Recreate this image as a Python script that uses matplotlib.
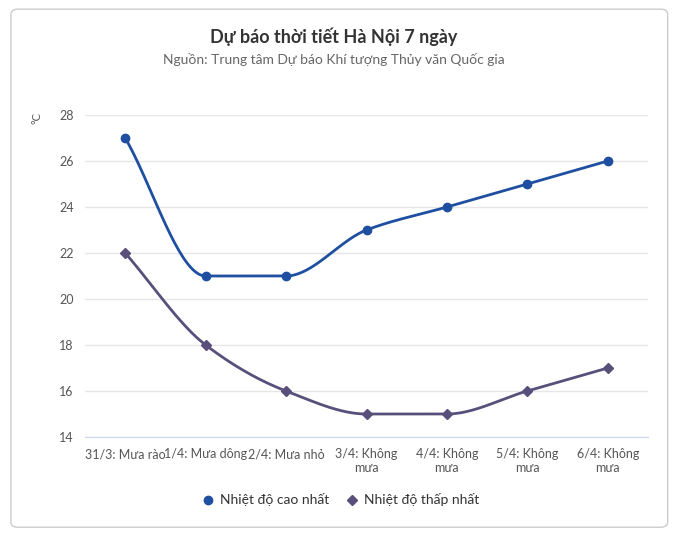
import numpy as np
import matplotlib
matplotlib.use("Agg")
import matplotlib.pyplot as plt
from matplotlib.patches import FancyBboxPatch

categories = ["31/3: Mưa rào", "1/4: Mưa dông", "2/4: Mưa nhỏ", "3/4: Không\nmưa",
              "4/4: Không\nmưa", "5/4: Không\nmưa", "6/4: Không\nmưa"]
high = [27, 21, 21, 23, 24, 25, 26]
low = [22, 18, 16, 15, 15, 16, 17]
yticks = [14, 16, 18, 20, 22, 24, 26, 28]

def pchip(x, y, n=40):
    x = np.asarray(x, float); y = np.asarray(y, float)
    h = np.diff(x); d = np.diff(y) / h
    m = np.zeros_like(y)
    for i in range(1, len(y) - 1):
        if d[i-1] * d[i] > 0:
            w1 = 2*h[i] + h[i-1]; w2 = h[i] + 2*h[i-1]
            m[i] = (w1 + w2) / (w1/d[i-1] + w2/d[i])
    m[0] = d[0]; m[-1] = d[-1]
    xs, ys = [], []
    for i in range(len(x) - 1):
        t = np.linspace(0, 1, n)
        h00 = 2*t**3 - 3*t**2 + 1; h10 = t**3 - 2*t**2 + t
        h01 = -2*t**3 + 3*t**2; h11 = t**3 - t**2
        xs.append(x[i] + t*h[i])
        ys.append(h00*y[i] + h10*h[i]*m[i] + h01*y[i+1] + h11*h[i]*m[i+1])
    return np.concatenate(xs), np.concatenate(ys)

plt.rcParams['font.family'] = ['Lato', 'DejaVu Sans']
fig = plt.figure(figsize=(6.82, 5.38), dpi=100)
box = FancyBboxPatch((0.016, 0.02), 0.963, 0.963, boxstyle="round,pad=0,rounding_size=0.01",
                     transform=fig.transFigure, fc="none", ec="#cccccc", lw=1, zorder=-10)
fig.patches.append(box)
ax = fig.add_axes([85/682, 1-437/538, (648-85)/682, (437-115)/538])
ax.patch.set_alpha(0)
x = np.arange(len(categories))
c1 = "#1e4fa0"; c2 = "#58507a"
for vals, c, mk, lab, ms in [(high, c1, "o", "Nhiệt độ cao nhất", 6), (low, c2, "D", "Nhiệt độ thấp nhất", 5)]:
    xs, ys = pchip(x, vals)
    ax.plot(xs, ys, color=c, lw=2)
    ax.plot(x, vals, mk, color=c, ms=ms, label=lab)
ax.set_xlim(-0.5, 6.5); ax.set_ylim(14, 28)
ax.set_yticks(yticks)
ax.set_xticks(x, categories)
ax.grid(axis='y', color="#e6e6e6", lw=1)
ax.set_axisbelow(True)
for s in ["top", "right", "left"]:
    ax.spines[s].set_visible(False)
ax.spines["bottom"].set_color("#ccd6eb")
ax.tick_params(axis='both', length=0, labelsize=9, colors="#555555", pad=8)
fig.text(37/682, 1-118/538, "°C", rotation=90, fontsize=8, color="#555555", ha="center", va="center")
fig.text(0.49, 1-37/538, "Dự báo thời tiết Hà Nội 7 ngày", fontsize=13, fontweight="bold", color="#333333", ha="center", va="center")
fig.text(0.49, 1-60/538, "Nguồn: Trung tâm Dự báo Khí tượng Thủy văn Quốc gia", fontsize=10, color="#666666", ha="center", va="center")
leg = fig.legend(loc="center", bbox_to_anchor=(0.5, 1-500/538), ncol=2, frameon=False, fontsize=10,
                 handlelength=0.8, columnspacing=1.2, handletextpad=0.5)
for t in leg.get_texts():
    t.set_color("#333333")
fig.savefig("out.png", dpi=100)
